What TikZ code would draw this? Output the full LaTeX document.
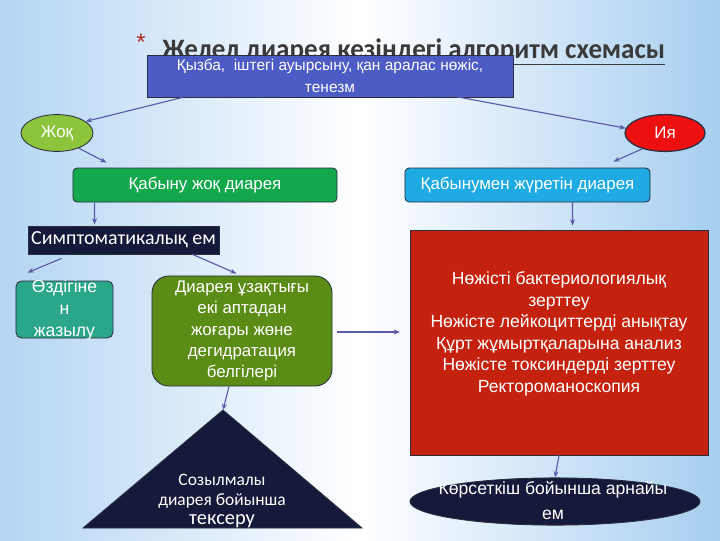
\documentclass[tikz,border=0pt]{standalone}
\usepackage{fontspec}
\setmainfont{Liberation Sans}
\newfontfamily\calfont{Carlito}
\usetikzlibrary{calc,arrows.meta,shapes.geometric}
\definecolor{bgL}{HTML}{B3D5F2}
\definecolor{bgR}{HTML}{A6CEF0}
\definecolor{titlegray}{HTML}{3A3A3A}
\definecolor{starred}{HTML}{B0281C}
\definecolor{topblue}{HTML}{4C5CC4}
\definecolor{zhokgreen}{HTML}{8CC43C}
\definecolor{iyared}{HTML}{EE1010}
\definecolor{kjgreen}{HTML}{14A84C}
\definecolor{kzcyan}{HTML}{1EAAE2}
\definecolor{navy}{HTML}{161A3A}
\definecolor{tealc}{HTML}{2AA688}
\definecolor{olive}{HTML}{5B8C16}
\definecolor{redbox}{HTML}{C4220E}
\definecolor{arrowc}{HTML}{5A5AA8}
\definecolor{edgec}{HTML}{2A2E40}
\begin{document}
\begin{tikzpicture}[x=0.025cm,y=-0.025cm,
  shapebox/.style={draw=edgec, line width=0.6pt, text=white, align=center, inner sep=0pt},
  arr/.style={-{Stealth[length=4.5pt,width=3.5pt]}, draw=arrowc, line width=0.8pt},
  txt/.style={text=white, align=center, inner sep=0pt},
  f12/.style={font=\fontsize{12}{15}\selectfont}]
\useasboundingbox (0,0) rectangle (720,540);
\shade[left color=bgL, right color=bgR, middle color=white] (0,0) rectangle (720,540);

% title
\node[anchor=base west, inner sep=0pt, text=titlegray, font=\calfont\bfseries\fontsize{20}{24}\selectfont] (title) at (162,58) {\scalebox{0.962}[1]{\underline{Желел диарея кезіндегі алгоритм схемасы}}};
\node[text=starred, inner sep=0pt, font=\fontsize{17}{17}\selectfont] (star) at (141,42) {*};

% top box
\node[shapebox, fill=topblue, minimum width=9.15cm, minimum height=1.05cm, font=\fontsize{11}{16}\selectfont] (top) at (330,76) {Қызба,\ \ іштегі ауырсыну, қан аралас нөжіс,\\тенезм};

% yes / no
\node[shapebox, ellipse, fill=zhokgreen, minimum width=1.8cm, minimum height=0.92cm, f12] (zhok) at (57,133) {Жоқ};
\node[shapebox, ellipse, fill=iyared, line width=0.9pt, minimum width=2cm, minimum height=0.92cm, f12] (iya) at (665,133) {Ия};

% second row
\node[shapebox, rounded corners=3pt, fill=kjgreen, minimum width=6.6cm, minimum height=0.85cm, f12] (kj) at (205,185) {Қабыну жоқ диарея};
\node[shapebox, rounded corners=3pt, fill=kzcyan, minimum width=6.125cm, minimum height=0.85cm, f12] (kz) at (527.5,185) {Қабынумен жүретін диарея};

% symptomatic
\node[shapebox, fill=navy, minimum width=4.775cm, minimum height=0.7cm, font=\calfont\fontsize{14.2}{16}\selectfont] (symp) at (123.5,240) {Симптоматикалық ем};

% self-healing box (text clipped)
\node[shapebox, rounded corners=4pt, fill=tealc, minimum width=2.425cm, minimum height=1.425cm] (ozd) at (64.5,309.5) {};
\begin{scope}
  \clip (ozd.north west) rectangle (ozd.south east);
  \node[txt, font=\fontsize{12.5}{15.6}\selectfont] (ozdtext) at (64.5,310) {Өздігіне\\н\\жазылу};
\end{scope}

% diarrhoea duration box
\node[shapebox, rounded corners=12pt, fill=olive, minimum width=4.5cm, minimum height=2.75cm, font=\fontsize{12}{15.2}\selectfont] (dia) at (242,331) {Диарея ұзақтығы\\екі аптадан\\жоғары жөне\\дегидратация\\белгілері};

% red box
\node[shapebox, fill=redbox, minimum width=7.45cm, minimum height=5.625cm] (red) at (559,342.5) {};
\node[txt, font=\fontsize{12.5}{15.3}\selectfont] (redtext) at (559,334) {Нөжісті бактериологиялық\\зерттеу\\Нөжісте лейкоциттерді анықтау\\Құрт жұмыртқаларына анализ\\Нөжісте токсиндерді зерттеу\\Ректороманоскопия};

% special treatment ellipse
\node[shapebox, ellipse, fill=navy, minimum width=7.25cm, minimum height=1.18cm] (spec) at (555,501.5) {};
\node[txt, font=\fontsize{12.5}{18}\selectfont] (spectext) at (553,500.5) {Көрсеткіш бойынша арнайы\\ем};

% triangle
\coordinate (apex) at (223,410);
\coordinate (tl) at (83,528);
\coordinate (tr) at (362,528);
\draw[draw=edgec, fill=navy, line width=0.6pt] (apex) -- (tl) -- (tr) -- cycle;
\node[txt, font=\calfont\fontsize{12.4}{14}\selectfont] (tritext) at (222,501) {Созылмалы\\диарея бойынша\\{\fontsize{14.5}{15}\selectfont тексеру}};

% connectors
\draw[arr] ($(top.south west)+(36,0)$) -- (zhok.22);
\draw[arr] ($(top.south east)+(-64,-2)$) -- (iya.173);
\draw[arr] (zhok.-35) -- ($(kj.north west)+(34,-5)$);
\draw[arr] (iya.-145) -- ($(kz.north east)+(-37,-6)$);
\draw[arr] ($(kj.south west)+(22,0)$) -- ($(symp.north west)+(67,-1)$);
\draw[arr] ($(kz.south west)+(168,0)$) -- ($(red.north west)+(163,-4)$);
\draw[arr] ($(symp.south west)+(34,4)$) -- ($(ozd.north west)+(12,-8)$);
\draw[arr] ($(symp.south west)+(165,0)$) -- ($(dia.north west)+(85,-2)$);
\draw[arr] ($(dia.south)+(-13,0)$) -- (apex);
\coordinate (rightend) at (400,332);
\draw[arr] ($(dia.east)+(5,1)$) -- (rightend);
\draw[arr] (red.south) -- (spec.north);
\end{tikzpicture}
\end{document}
